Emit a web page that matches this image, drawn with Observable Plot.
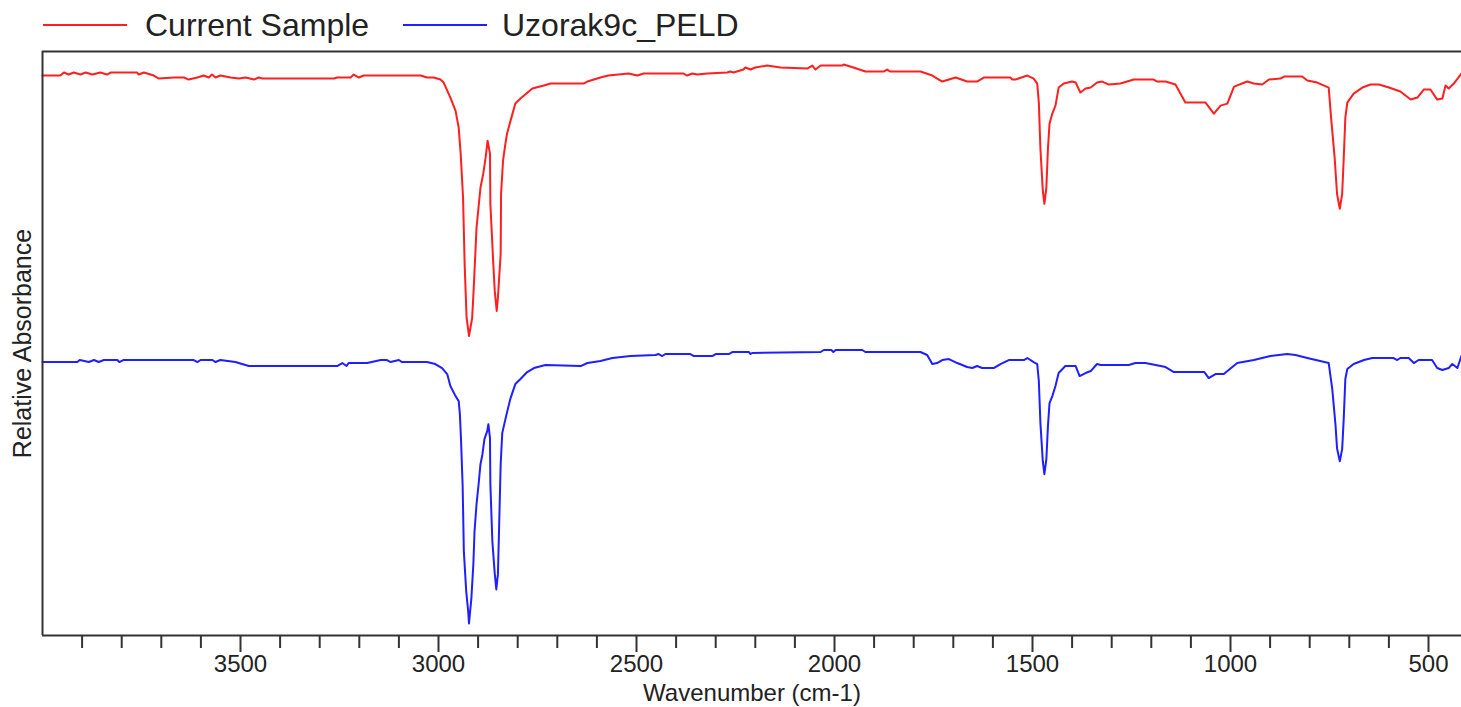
<!DOCTYPE html>
<html>
<head>
<meta charset="utf-8">
<script src="https://cdn.jsdelivr.net/npm/d3@7"></script>
<script src="https://cdn.jsdelivr.net/npm/@observablehq/plot@0.6"></script>
<style>
  body { margin: 0; background: #fff; font-family: "Liberation Sans", Arial, sans-serif; }
  #wrap { position: relative; width: 1461px; height: 707px; overflow: hidden; background: #fff; }
  .leg { position: absolute; top: 0; height: 50px; line-height: 50px; font-size: 32px; color: #222; white-space: nowrap; }
  .sw { position: absolute; top: 24px; height: 2px; }
  #chart { position: absolute; left: 0; top: 46px; }
</style>
</head>
<body>
<div id="wrap"><div id="chart"></div></div>
<script>
// Series names and colours
const seriesNames = ["Current Sample", "Uzorak9c_PELD"];
const seriesColors = ["#ff1f1f", "#1f1fff"];

// Axis ticks (cm-1)
const majorTicks = [3500, 3000, 2500, 2000, 1500, 1000, 500];
const minorTicks = [3900, 3800, 3700, 3600, 3400, 3300, 3200, 3100, 2900, 2800, 2700, 2600,
  2400, 2300, 2200, 2100, 1900, 1800, 1700, 1600, 1400, 1300, 1200, 1100, 900, 800, 700, 600];

// [wavenumber, relative absorbance (arbitrary units, offset display)]
const currentSample = [
  [4000,559],[3955,559],[3946,562],[3934,560],[3921,562],[3904,560],[3891,562],[3874,560],[3854,562],
  [3837,560],[3828,562],[3761,562],[3757,560],[3744,562],[3719,559],[3706,556],[3668,557],[3643,557],
  [3631,555],[3609,557],[3593,559],[3580,557],[3572,560],[3563,557],[3551,559],[3525,557],[3504,556],
  [3487,557],[3466,555],[3454,557],[3445,556],[3264,556],[3256,557],[3222,557],[3214,560],[3201,557],
  [3189,559],[3045,559],[3029,557],[3012,557],[2995,555],
  [2987,552],[2970,537],[2957,524],[2949,507],[2944,481],[2938,437],[2934,371],[2929,317],[2923,299],
  [2915,317],[2911,347],[2904,407],[2898,431],[2894,447],[2887,461],[2881,477],[2876,494],[2870,481],
  [2869,431],[2862,374],[2858,344],[2853,324],[2850,337],[2843,381],[2842,441],[2837,474],[2831,491],
  [2827,501],[2818,514],[2806,531],[2793,536],[2763,546],[2734,549],[2717,551],[2634,551],[2624,553],
  [2591,557],[2571,559],[2520,561],[2498,559],[2482,561],[2381,561],[2372,559],[2359,561],[2347,560],
  [2321,561],[2271,562],[2263,563],[2255,562],[2230,565],[2225,567],[2212,565],[2200,567],[2170,569],
  [2136,567],[2069,566],[2056,569],[2048,565],[2035,569],[1980,569],[1977,570],[1952,567],[1922,563],
  [1876,563],[1867,565],[1859,563],[1783,563],[1753,559],[1728,553],[1694,557],[1665,553],[1640,553],
  [1623,557],[1581,557],[1556,557],[1551,555],[1543,555],[1513,559],[1497,556],[1488,551],[1484,532],
  [1480,486],[1474,444],[1470,431],[1465,447],[1461,486],[1457,511],[1450,521],[1442,529],[1434,547],
  [1421,551],[1400,553],[1391,552],[1379,542],[1366,546],[1353,547],[1337,552],[1324,553],[1307,550],
  [1278,551],[1244,555],[1194,555],[1185,553],[1164,553],[1139,550],[1114,532],[1063,532],[1042,521],
  [1025,529],[1008,531],[991,548],[958,553],[941,551],[920,550],[903,555],[874,556],[865,558],[819,558],
  [806,554],[781,552],[752,547],[746,517],[737,477],[731,441],[724,426],[718,441],[714,477],[710,517],
  [705,532],[689,541],[667,547],[646,550],[625,550],[600,547],[571,543],[545,535],[528,537],[512,545],
  [495,545],[478,535],[465,536],[457,549],[449,546],[436,551],[417,561]
];

const uzorak9cPELD = [
  [4000,273],[3912,273],[3906,275],[3883,273],[3870,275],[3858,273],[3845,275],[3811,275],[3806,273],
  [3796,275],[3618,275],[3609,273],[3601,275],[3571,275],[3563,273],[3551,275],[3513,273],[3479,269],
  [3256,269],[3243,272],[3232,269],[3227,272],[3180,272],[3146,275],[3130,275],[3121,273],[3100,275],
  [3092,273],[3029,273],[3008,271],[2991,267],[2978,261],[2970,249],[2957,239],[2949,234],[2946,221],
  [2943,194],[2939,149],[2936,84],[2930,44],[2925,24],[2923,12],[2917,37],[2912,71],[2909,104],
  [2904,131],[2898,154],[2894,171],[2889,181],[2884,196],[2877,204],[2874,211],[2870,197],[2869,151],
  [2864,94],[2858,62],[2854,46],[2850,61],[2847,107],[2843,171],[2839,202],[2831,216],[2825,226],
  [2818,237],[2806,251],[2793,256],[2776,263],[2759,267],[2730,270],[2641,269],[2624,272],[2591,274],
  [2561,277],[2515,279],[2452,280],[2444,281],[2435,279],[2427,281],[2364,281],[2355,279],[2309,279],
  [2300,281],[2267,281],[2258,283],[2216,283],[2212,281],[2208,282],[2035,283],[2027,285],[2008,285],
  [2003,283],[1997,285],[1930,285],[1922,283],[1783,283],[1766,280],[1753,271],[1741,272],[1728,275],
  [1711,276],[1690,272],[1665,268],[1652,267],[1640,269],[1627,267],[1598,267],[1581,271],[1560,275],
  [1522,275],[1513,277],[1497,273],[1488,271],[1484,254],[1480,212],[1474,174],[1470,161],[1465,176],
  [1461,209],[1457,232],[1450,239],[1442,249],[1434,262],[1417,269],[1391,269],[1381,259],[1366,262],
  [1353,264],[1337,271],[1328,270],[1257,270],[1240,272],[1215,272],[1189,270],[1164,268],[1143,263],
  [1066,263],[1055,257],[1038,261],[1017,261],[983,272],[941,275],[899,279],[857,281],[836,280],
  [806,277],[752,272],[743,246],[735,211],[731,187],[724,174],[718,186],[714,217],[710,256],[705,266],
  [689,271],[663,275],[642,277],[588,277],[579,275],[571,277],[550,277],[537,272],[525,275],[491,275],
  [478,267],[465,265],[449,267],[440,271],[427,267],[417,279]
];

const rows = [
  ...currentSample.map(([w, v]) => ({series: seriesNames[0], w, v})),
  ...uzorak9cPELD.map(([w, v]) => ({series: seriesNames[1], w, v}))
];

const wrap = document.getElementById("wrap");
// Legend (HTML, above the SVG)
const legendSwatchLeft = [43, 403];
const legendTextLeft = [145, 502];
seriesNames.forEach((name, i) => {
  const sw = document.createElement("div");
  sw.className = "sw";
  sw.style.left = legendSwatchLeft[i] + "px";
  sw.style.width = "84px";
  sw.style.background = seriesColors[i];
  wrap.appendChild(sw);
  const t = document.createElement("div");
  t.className = "leg";
  t.style.left = legendTextLeft[i] + "px";
  t.textContent = name;
  wrap.appendChild(t);
});

const axisColor = "#333";
const chart = Plot.plot({
  width: 1461,
  height: 661,
  marginLeft: 42,
  marginRight: 0,
  marginTop: 5,
  marginBottom: 72,
  x: {domain: [4000, 400], range: [42, 1467.6]},
  y: {domain: [0, 583], axis: null},
  color: {domain: seriesNames, range: seriesColors},
  style: {fontFamily: "'Liberation Sans', Arial, sans-serif", color: "#222", background: "white", overflow: "visible"},
  marks: [
    Plot.line(rows, {x: "w", y: "v", z: "series", stroke: "series", strokeWidth: 2, curve: "linear"}),
    Plot.ruleY([583], {stroke: axisColor, strokeWidth: 2}),
    Plot.ruleY([0], {stroke: axisColor, strokeWidth: 2}),
    Plot.ruleX([4000], {stroke: axisColor, strokeWidth: 2}),
    Plot.axisX(minorTicks, {tickSize: 13, tickFormat: () => "", stroke: axisColor, strokeWidth: 2, label: null}),
    Plot.axisX(majorTicks, {tickSize: 17, tickPadding: 2, fontSize: 24, stroke: axisColor, strokeWidth: 2, fill: "#222", label: null, tickFormat: d => String(d)}),
    Plot.text(["Wavenumber (cm-1)"], {frameAnchor: "bottom", lineAnchor: "middle", textAnchor: "middle", dy: 58, fontSize: 24, fill: "#222"}),
    Plot.text(["Relative Absorbance"], {frameAnchor: "left", textAnchor: "middle", lineAnchor: "middle", dx: -20, rotate: -90, fontSize: 25, fill: "#222"})
  ]
});
document.getElementById("chart").appendChild(chart);
</script>
</body>
</html>
